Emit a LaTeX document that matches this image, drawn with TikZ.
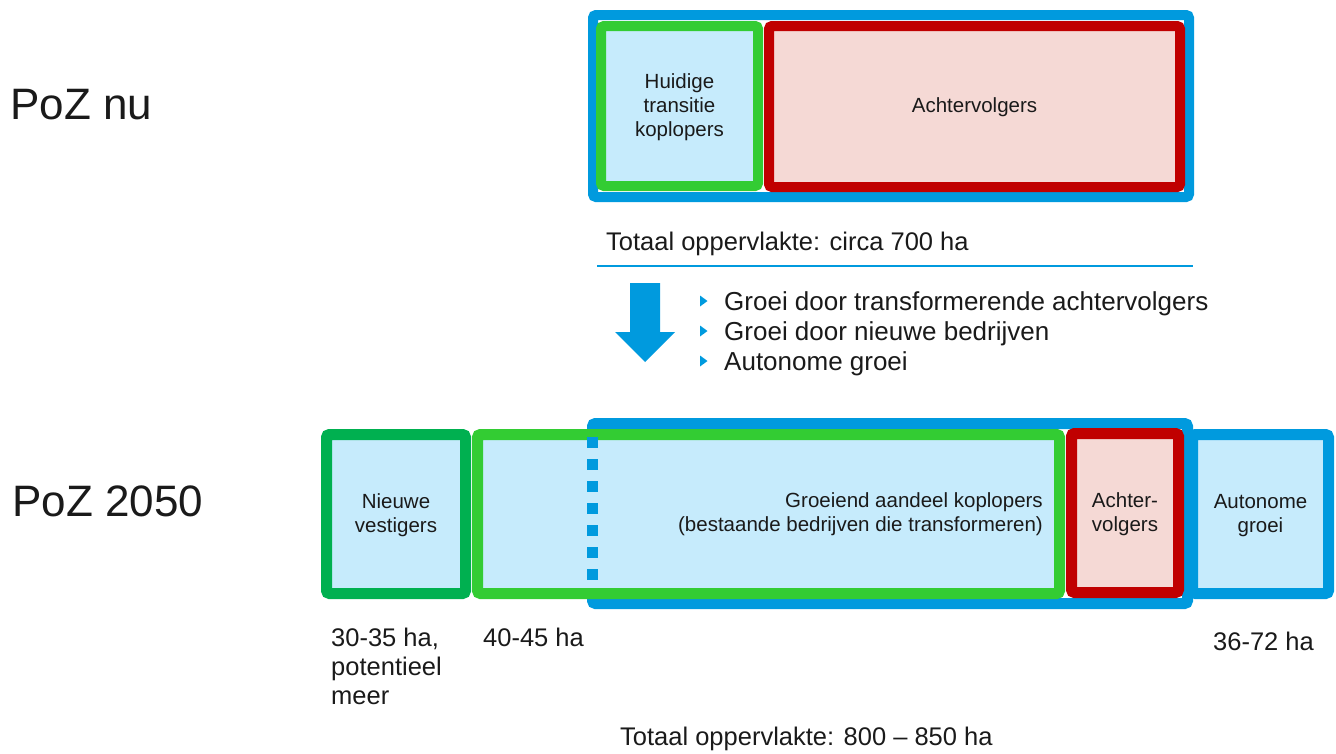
\documentclass[tikz,border=0pt]{standalone}
\usepackage{fontspec}
\setmainfont{Liberation Sans}
\definecolor{pozblue}{HTML}{009ADE}
\definecolor{pozgreen}{HTML}{33CC33}
\definecolor{pozdkgreen}{HTML}{00B050}
\definecolor{pozred}{HTML}{C00000}
\definecolor{fillblue}{HTML}{C6EBFC}
\definecolor{fillpink}{HTML}{F5D9D5}
\definecolor{ink}{HTML}{1A1A1A}
\begin{document}
\begin{tikzpicture}[x=1pt,y=-1pt,
  box/.style={draw=#1, rounded corners=3pt, inner sep=0pt, align=center,
    text=ink, font=\fontsize{20.5}{24}\selectfont, text depth=2pt},
  thinbox/.style={box=#1, line width=10pt},
  thickbox/.style={box=#1, line width=11pt},
  boxtext/.style={inner sep=0pt, text=ink, font=\fontsize{20.5}{24}\selectfont},
  label/.style={inner sep=0pt, anchor=base west, text=ink, font=\fontsize{25.5}{29}\selectfont},
  driver/.style={label, font=\fontsize{26}{30}\selectfont},
  title/.style={inner sep=0pt, anchor=base west, text=ink, font=\fontsize{44}{50}\selectfont},
  bullet/.style={fill=pozblue}
]
\useasboundingbox (0,0) rectangle (1336,753);

% ---- current situation ----
\node[title] (tnow) at (10,119) {PoZ nu};
\node[thinbox=pozblue, fill=white, minimum width=596pt, minimum height=182pt] (nowall) at (891,106) {};
\node[thinbox=pozgreen, fill=fillblue, minimum width=157pt, minimum height=160pt] (nowlead) at (679.5,106) {Huidige\\transitie\\koplopers};
\node[thinbox=pozred, fill=fillpink, minimum width=411pt, minimum height=161pt] (nowlag) at (974.5,106.5) {Achtervolgers};

\node[label] (nowtotal) at (606,250) {Totaal oppervlakte: circa 700 ha};
\draw[pozblue, line width=2.5pt] (597,266) -- (1193,266);

% ---- growth arrow and drivers ----
\fill[pozblue] (630,283) -- (660,283) -- (660,332) -- (675,332) -- (645,362)
  -- (615,332) -- (630,332) -- cycle;
\foreach \yy/\txt [count=\i] in {301/Groei door transformerende achtervolgers,
    331/Groei door nieuwe bedrijven, 361/Autonome groei}{
  \fill[bullet] (700,\yy-5.5) -- (707.5,\yy) -- (700,\yy+5.5) -- cycle;
  \node[driver] (drv\i) at (724,\yy+9) {\txt};
}

% ---- 2050 situation ----
\node[title] (t2050) at (12,516) {PoZ 2050};
\node[thickbox=pozblue, fill=fillblue, minimum width=136pt, minimum height=159pt] (auto) at (1260.5,514) {Autonome\\groei};
\node[thickbox=pozblue, fill=white, minimum width=595pt, minimum height=180pt] (futall) at (890,513.5) {};
\node[thickbox=pozdkgreen, fill=fillblue, minimum width=139pt, minimum height=159pt] (new) at (396,514) {Nieuwe\\vestigers};
\node[thickbox=pozgreen, fill=fillblue, minimum width=582pt, minimum height=159pt] (grow) at (768.5,514) {};
\node[thickbox=pozred, fill=fillpink, minimum width=107pt, minimum height=159pt] (futlag) at (1125,513) {Achter-\\volgers};
\node[boxtext, anchor=east, align=right] (growtxt) at (1043,514)
  {Groeiend aandeel koplopers\\(bestaande bedrijven die transformeren)};
\draw[pozblue, line width=11pt, dash pattern=on 11pt off 11pt] (592.5,437) -- (592.5,580);

% ---- area figures ----
\node[label] (lnew1) at (331,646) {30-35 ha,};
\node[label] (lnew2) at (331,675) {potentieel};
\node[label] (lnew3) at (331,704) {meer};
\node[label] (lgrow) at (483,646) {40-45 ha};
\node[label] (lauto) at (1213,650) {36-72 ha};
\node[label] (futtotal) at (620,745) {Totaal oppervlakte: 800 – 850 ha};
\end{tikzpicture}
\end{document}
